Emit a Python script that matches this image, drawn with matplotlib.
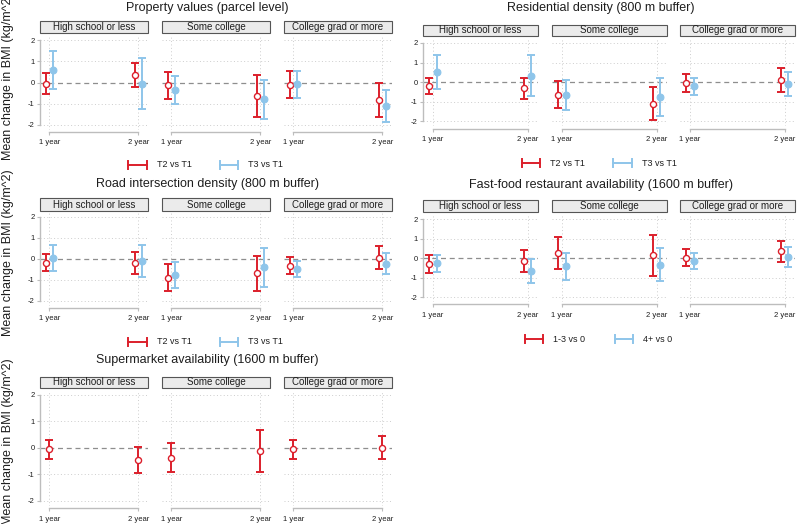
import numpy as np
import matplotlib
matplotlib.use('Agg')
import matplotlib.pyplot as plt
from matplotlib.patches import Rectangle
from matplotlib.lines import Line2D

plt.rcParams['font.family'] = ['Liberation Sans', 'DejaVu Sans']

W, H = 797, 524

groups = ['High school or less', 'Some college', 'College grad or more']
times = ['1 year', '2 year']
yticks = [-2, -1, 0, 1, 2]
ylabel = 'Mean change in BMI (kg/m^2)'

# value order: HS 1y, HS 2y, SC 1y, SC 2y, CG 1y, CG 2y
prop_t2_est = [-0.05, 0.35, -0.14, -0.64, -0.11, -0.82]
prop_t2_lo = [-0.56, -0.22, -0.78, -1.62, -0.75, -1.63]
prop_t2_hi = [0.46, 0.94, 0.51, 0.34, 0.54, -0.02]
prop_t3_est = [0.59, -0.05, -0.35, -0.80, -0.08, -1.13]
prop_t3_lo = [-0.30, -1.25, -1.02, -1.73, -0.72, -1.88]
prop_t3_hi = [1.50, 1.15, 0.32, 0.14, 0.56, -0.38]

res_t2_est = [-0.19, -0.31, -0.63, -1.09, -0.03, 0.09]
res_t2_lo = [-0.58, -0.84, -1.32, -1.93, -0.48, -0.51]
res_t2_hi = [0.22, 0.24, 0.05, -0.26, 0.41, 0.72]
res_t3_est = [0.50, 0.31, -0.67, -0.75, -0.20, -0.09]
res_t3_lo = [-0.34, -0.68, -1.40, -1.74, -0.63, -0.68]
res_t3_hi = [1.37, 1.37, 0.09, 0.24, 0.20, 0.51]

road_t2_est = [-0.21, -0.22, -0.90, -0.70, -0.33, 0.05]
road_t2_lo = [-0.60, -0.75, -1.52, -1.52, -0.75, -0.49]
road_t2_hi = [0.21, 0.32, -0.27, 0.14, 0.10, 0.60]
road_t3_est = [0.03, -0.10, -0.79, -0.41, -0.51, -0.25]
road_t3_lo = [-0.60, -0.86, -1.41, -1.33, -0.86, -0.75]
road_t3_hi = [0.67, 0.67, -0.14, 0.51, -0.10, 0.29]

ff_13_est = [-0.31, -0.14, 0.24, 0.14, 0.03, 0.36]
ff_13_lo = [-0.78, -0.72, -0.55, -0.93, -0.41, -0.19]
ff_13_hi = [0.17, 0.41, 1.07, 1.21, 0.47, 0.90]
ff_4p_est = [-0.26, -0.67, -0.41, -0.34, -0.14, 0.05]
ff_4p_lo = [-0.69, -1.28, -1.12, -1.19, -0.57, -0.43]
ff_4p_hi = [0.17, -0.05, 0.29, 0.52, 0.28, 0.57]

sm_est = [-0.06, -0.48, -0.38, -0.14, -0.06, -0.03]
sm_lo = [-0.43, -0.94, -0.92, -0.92, -0.41, -0.42]
sm_hi = [0.30, 0.01, 0.18, 0.67, 0.28, 0.42]

RED = '#dc1f2b'
BLUE = '#8ec5ea'
GRID = '#cdcdcd'
AXC = '#bdbdbd'
TXT = '#1e1e1e'
XLIM = (0.895, 2.11)


def fx(x):
    return x / W


def fy(y):
    return 1 - y / H


def draw_beam(fig, x0, x1, y, color):
    # legend key: horizontal capped spike
    fig.add_artist(Line2D([fx(x0), fx(x1)], [fy(y), fy(y)], color=color, lw=1.4, transform=fig.transFigure))
    for xx in (x0, x1):
        fig.add_artist(Line2D([fx(xx), fx(xx)], [fy(y - 4), fy(y + 4)], color=color, lw=1.4,
                              transform=fig.transFigure))


def draw_panel(fig, title, series, lefts, width, y2, ym2, head, title_xy, legend=None):
    unit = (ym2 - y2) / 4
    top, bot = y2 - 4, ym2 + 5
    ylim = (-2 - 5 / unit, 2 + 4 / unit)
    for g, left in enumerate(lefts):
        ax = fig.add_axes([fx(left), fy(bot), width / W, (bot - top) / H])
        ax.set_xlim(XLIM)
        ax.set_ylim(ylim)
        ax.patch.set_alpha(0)
        for s in ('top', 'right'):
            ax.spines[s].set_visible(False)

        for v in (-2, -1, 1, 2):
            ax.axhline(v, color=GRID, lw=0.7, ls=(0, (1, 2.5)), zorder=0)
        for v in (1, 2):
            ax.axvline(v, color=GRID, lw=0.7, ls=(0, (1, 2.5)), zorder=0)
        ax.axhline(0, color='#8e8e8e', lw=0.9, ls=(0, (4, 3)), zorder=1)

        offs = [0.0] if len(series) == 1 else [-0.04, 0.04]
        for (lab, col, est, lo, hi, filled), off in zip(series, offs):
            e = np.array(est[2 * g:2 * g + 2])
            l = np.array(lo[2 * g:2 * g + 2])
            h = np.array(hi[2 * g:2 * g + 2])
            x = np.array([1, 2]) + off
            ax.errorbar(x, e, yerr=[e - l, h - e], fmt='none', ecolor=col, elinewidth=1.4,
                        capsize=3, capthick=1.4, zorder=3)
            if filled:
                ax.plot(x, e, 'o', ms=4.9, mfc=col, mec=col, mew=0.8, zorder=4)
            else:
                ax.plot(x, e, 'o', ms=4.4, mfc='white', mec=col, mew=1.0, zorder=4)

        ax.spines['bottom'].set_bounds(1, 2)
        ax.spines['bottom'].set_position(('outward', 1.5))
        ax.spines['bottom'].set_color(AXC)
        ax.spines['bottom'].set_linewidth(1.0)
        ax.set_xticks([1, 2])
        ax.set_xticklabels(times)
        ax.tick_params(axis='x', length=2.5, width=0.8, color=AXC, pad=3, labelsize=5.5, labelcolor=TXT)

        if g == 0:
            ax.spines['left'].set_bounds(-2, 2)
            ax.spines['left'].set_color(AXC)
            ax.spines['left'].set_linewidth(1.0)
            ax.set_yticks(yticks)
            ax.set_yticklabels([str(t) for t in yticks])
            ax.tick_params(axis='y', length=2.5, width=0.8, color=AXC, pad=1.5, labelsize=5.5, labelcolor=TXT)
        else:
            ax.spines['left'].set_visible(False)
            ax.set_yticks([])

        fig.add_artist(Rectangle((fx(left), fy(head[1])), width / W, (head[1] - head[0]) / H,
                                 transform=fig.transFigure, fc='#ebebeb', ec='#555555', lw=0.8))
        fig.text(fx(left + width / 2), fy((head[0] + head[1]) / 2), groups[g], ha='center', va='center',
                 fontsize=7, color=TXT)

    fig.text(fx(title_xy[0]), fy(title_xy[1]), title, ha='center', va='center', fontsize=9, color=TXT)

    if legend is not None:
        ly, keys = legend
        for (lab, col, est, lo, hi, filled), (x0, x1) in zip(series, keys):
            draw_beam(fig, x0, x1, ly, col)
            fig.text(fx(x1 + 10), fy(ly), lab, ha='left', va='center', fontsize=6.5, color=TXT)


fig = plt.figure(figsize=(W / 100, H / 100), dpi=100)

draw_panel(fig, 'Property values (parcel level)',
           [('T2 vs T1', RED, prop_t2_est, prop_t2_lo, prop_t2_hi, False),
            ('T3 vs T1', BLUE, prop_t3_est, prop_t3_lo, prop_t3_hi, True)],
           [40, 162, 284], 108, 40.5, 124.5, (21, 33), (207, 8),
           legend=(164.5, [(128, 147), (220, 238)]))

draw_panel(fig, 'Residential density (800 m buffer)',
           [('T2 vs T1', RED, res_t2_est, res_t2_lo, res_t2_hi, False),
            ('T3 vs T1', BLUE, res_t3_est, res_t3_lo, res_t3_hi, True)],
           [423, 552, 680], 115, 43, 121.5, (24.5, 36), (601, 8.5),
           legend=(163, [(522, 540), (613, 632)]))

draw_panel(fig, 'Road intersection density (800 m buffer)',
           [('T2 vs T1', RED, road_t2_est, road_t2_lo, road_t2_hi, False),
            ('T3 vs T1', BLUE, road_t3_est, road_t3_lo, road_t3_hi, True)],
           [40, 162, 284], 108, 216.7, 300.7, (198.5, 210.5), (207.5, 183.5),
           legend=(341.5, [(128, 147), (220, 238)]))

draw_panel(fig, 'Fast-food restaurant availability (1600 m buffer)',
           [('1-3 vs 0', RED, ff_13_est, ff_13_lo, ff_13_hi, False),
            ('4+ vs 0', BLUE, ff_4p_est, ff_4p_lo, ff_4p_hi, True)],
           [423, 552, 680], 115, 219.3, 297, (200, 212), (601, 185),
           legend=(339, [(525, 543), (615, 633)]))

draw_panel(fig, 'Supermarket availability (1600 m buffer)',
           [('', RED, sm_est, sm_lo, sm_hi, False)],
           [40, 162, 284], 108, 394.5, 500.8, (376.5, 388), (207.5, 360))

# shared y-axis titles, left column
for yc in (76.5, 252.5, 442):
    fig.text(fx(8), fy(yc), ylabel, rotation=90, ha='center', va='center', fontsize=9, color=TXT)

fig.savefig('out.png', dpi=100)
